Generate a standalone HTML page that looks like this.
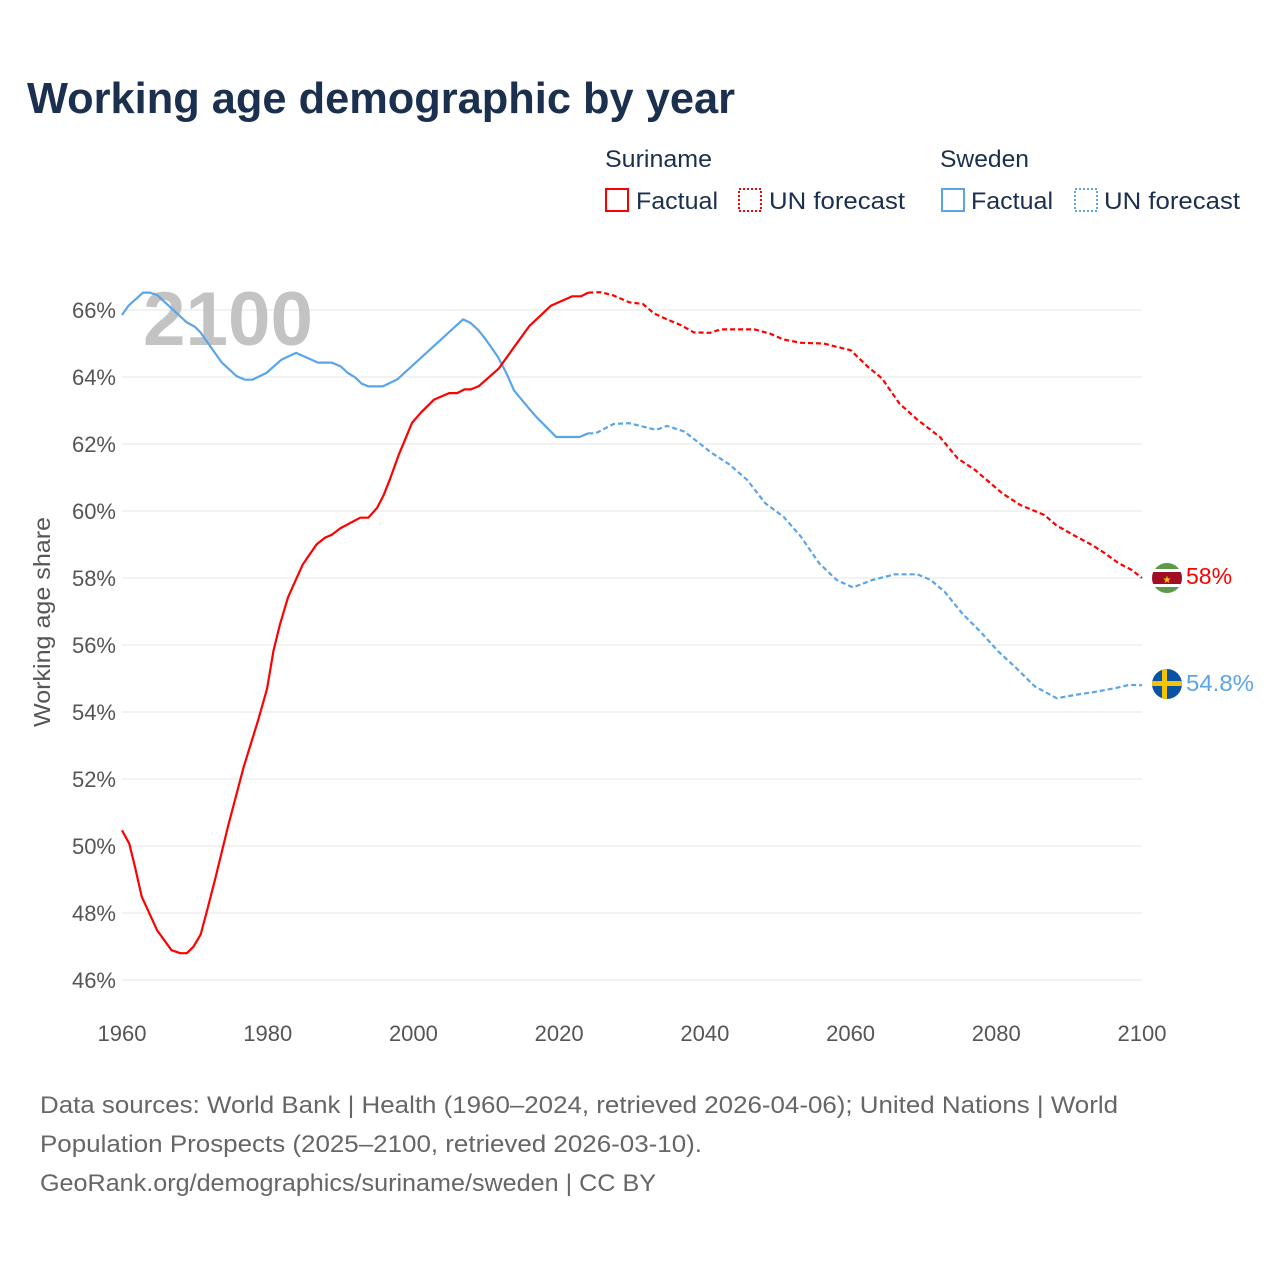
<!DOCTYPE html>
<html><head><meta charset="utf-8">
<style>
html,body{margin:0;padding:0;background:#fff;}
body{width:1280px;height:1280px;overflow:hidden;font-family:"Liberation Sans",sans-serif;}
svg text{font-family:"Liberation Sans",sans-serif;}
</style></head>
<body>
<svg id="chart" width="1280" height="1280" xmlns="http://www.w3.org/2000/svg">
<text x="27" y="113" font-size="44" font-weight="bold" fill="#1b2f4e" textLength="708" lengthAdjust="spacingAndGlyphs">Working age demographic by year</text>
<g font-size="24" fill="#1b2f4e">
<text x="605" y="167" textLength="107" lengthAdjust="spacingAndGlyphs">Suriname</text>
<text x="940" y="167" textLength="89" lengthAdjust="spacingAndGlyphs">Sweden</text>
<g><rect x="606" y="189" width="22" height="22" fill="none" stroke="#ff0000" stroke-width="2"/><text x="636" y="209" textLength="82" lengthAdjust="spacingAndGlyphs">Factual</text></g>
<g><rect x="739" y="189" width="22" height="22" fill="none" stroke="#ff0000" stroke-width="2" stroke-dasharray="2,2"/><text x="769" y="209" textLength="136" lengthAdjust="spacingAndGlyphs">UN forecast</text></g>
<g><rect x="942" y="189" width="22" height="22" fill="none" stroke="#5aa5ea" stroke-width="2"/><text x="971" y="209" textLength="82" lengthAdjust="spacingAndGlyphs">Factual</text></g>
<g><rect x="1075" y="189" width="22" height="22" fill="none" stroke="#5aa5ea" stroke-width="2" stroke-dasharray="2,2"/><text x="1104" y="209" textLength="136" lengthAdjust="spacingAndGlyphs">UN forecast</text></g>
</g>
<g id="grid"></g>
<g id="yticks" font-size="22" fill="#555" text-anchor="end"></g>
<g id="xticks" font-size="22" fill="#555" text-anchor="middle"></g>
<text x="143" y="345" font-size="76" font-weight="bold" fill="#bdbdbd" opacity="0.9" textLength="170" lengthAdjust="spacingAndGlyphs">2100</text>
<text transform="translate(50,622) rotate(-90)" font-size="23" fill="#555" text-anchor="middle" textLength="210" lengthAdjust="spacingAndGlyphs">Working age share</text>
<g id="series"></g>
<g>
<clipPath id="cs"><circle cx="1167" cy="578" r="15"/></clipPath>
<g clip-path="url(#cs)"><rect x="1150" y="560" width="34" height="36" fill="#5b9a46"/><rect x="1150" y="569" width="34" height="18" fill="#fff"/><rect x="1150" y="572" width="34" height="12" fill="#a10d25"/><text x="1167" y="583" font-size="10" fill="#f5d000" text-anchor="middle">★</text></g>
</g>
<text x="1186" y="584" font-size="23" fill="#ff0000">58%</text>
<g>
<clipPath id="cw"><circle cx="1167" cy="684" r="15"/></clipPath>
<g clip-path="url(#cw)"><rect x="1150" y="667" width="34" height="34" fill="#0a52a6"/><rect x="1150" y="681" width="34" height="5" fill="#f5c400"/><rect x="1162" y="667" width="5" height="34" fill="#f5c400"/></g>
</g>
<text x="1186" y="691" font-size="23" fill="#5aa5ea" textLength="68" lengthAdjust="spacingAndGlyphs">54.8%</text>
<g font-size="24" fill="#666">
<text x="40" y="1113" textLength="1078" lengthAdjust="spacingAndGlyphs">Data sources: World Bank | Health (1960–2024, retrieved 2026-04-06); United Nations | World</text>
<text x="40" y="1152" textLength="662" lengthAdjust="spacingAndGlyphs">Population Prospects (2025–2100, retrieved 2026-03-10).</text>
<text x="40" y="1191" textLength="616" lengthAdjust="spacingAndGlyphs">GeoRank.org/demographics/suriname/sweden | CC BY</text>
</g>
</svg>
<script>
const yTicks=[46,48,50,52,54,56,58,60,62,64,66];
const xTicks=[1960,1980,2000,2020,2040,2060,2080,2100];
const surYears=[1960,1961,1961.8,1962.7,1964.8,1966.8,1968,1968.9,1969.8,1970.8,1971.7,1972.8,1974.6,1976.7,1978.7,1979.9,1980.8,1981.7,1982.8,1984.8,1986.7,1987.9,1988.8,1990,1992.7,1993.8,1995,1995.9,1996.8,1998,1999.8,2001,2002.8,2004.9,2006,2007,2007.9,2009,2011.7,2013.8,2015.9,2018.9,2021.8,2023,2024];
const surVals=[50.47,50.07,49.36,48.49,47.49,46.89,46.8,46.8,46.99,47.36,48.09,49.03,50.63,52.36,53.76,54.69,55.83,56.63,57.43,58.4,59.0,59.21,59.29,59.49,59.8,59.8,60.09,60.47,60.96,61.69,62.63,62.93,63.32,63.52,63.52,63.63,63.63,63.73,64.25,64.89,65.52,66.13,66.41,66.41,66.52];
const surFcYears=[2024,2025.7,2027.5,2029.6,2031.5,2033,2034.8,2036.7,2038.5,2040.7,2042.2,2046.8,2048.9,2050.8,2053.2,2056.3,2058.1,2060,2062.4,2064.3,2066.7,2069.2,2072.2,2074.7,2077.1,2080.8,2083.3,2086.6,2088.2,2090.6,2093.1,2094.9,2096.8,2098.6,2100];
const surFcVals=[66.52,66.53,66.43,66.23,66.18,65.9,65.72,65.55,65.33,65.32,65.42,65.42,65.3,65.12,65.02,65.0,64.9,64.8,64.3,63.96,63.21,62.72,62.22,61.57,61.22,60.53,60.18,59.88,59.58,59.28,58.99,58.74,58.44,58.24,58.0];
const sweYears=[1960,1960.9,1962.9,1963.8,1964.8,1968.9,1970,1970.7,1973.7,1975.7,1976.9,1977.9,1979.8,1981.9,1983.9,1986.9,1988.8,1990,1991,1992,1992.9,1993.8,1995.8,1997.8,2006.8,2007.8,2008.9,2010,2011.6,2012.8,2013.8,2015.7,2016.9,2019.6,2022.8,2024];
const sweVals=[65.85,66.13,66.52,66.52,66.45,65.63,65.5,65.35,64.43,64.03,63.92,63.92,64.12,64.52,64.72,64.43,64.43,64.32,64.12,63.99,63.8,63.72,63.72,63.93,65.72,65.62,65.4,65.1,64.6,64.1,63.6,63.1,62.8,62.21,62.21,62.32];
const sweFcYears=[2024,2025,2027.5,2029.6,2031.5,2033.3,2034.8,2037.2,2040.9,2043.3,2045.8,2048.3,2050.8,2053.2,2055.7,2058.1,2060.3,2063,2066.1,2069.2,2071,2072.9,2075.3,2077.8,2080.3,2082.8,2085.3,2088.3,2090.8,2093.3,2096.3,2098.2,2100];
const sweFcVals=[62.32,62.32,62.6,62.62,62.52,62.42,62.54,62.37,61.74,61.4,60.93,60.23,59.83,59.23,58.44,57.94,57.72,57.94,58.11,58.11,57.94,57.59,56.95,56.4,55.8,55.3,54.76,54.41,54.51,54.59,54.71,54.81,54.8];

const NS='http://www.w3.org/2000/svg';
function xs(yr){return 122+(yr-1960)*(1142-122)/140;}
function ys(v){return 310+(66-v)*33.5;}
const grid=document.getElementById('grid'),yt=document.getElementById('yticks'),xt=document.getElementById('xticks'),ser=document.getElementById('series');
yTicks.forEach(v=>{
  const l=document.createElementNS(NS,'line');
  
  
  l.setAttribute('x1',122);l.setAttribute('x2',1142);l.setAttribute('y1',ys(v));l.setAttribute('y2',ys(v));
  l.setAttribute('stroke','#e6e6e6');l.setAttribute('stroke-width','1');
  grid.appendChild(l);
  const t=document.createElementNS(NS,'text');
  
  
  t.setAttribute('x',116);t.setAttribute('y',ys(v)+8);t.textContent=v+'%';
  yt.appendChild(t);
});
xTicks.forEach(v=>{
  const t=document.createElementNS(NS,'text');
  
  
  t.setAttribute('x',xs(v));t.setAttribute('y',1041);t.textContent=v;
  xt.appendChild(t);
});
function line(yrs,vals,color,dash,name){
  const p=document.createElementNS(NS,'path');
  
  
  p.setAttribute('d',yrs.map((y,i)=>(i?'L':'M')+xs(y).toFixed(1)+','+ys(vals[i]).toFixed(1)).join(''));
  p.setAttribute('fill','none');p.setAttribute('stroke',color);p.setAttribute('stroke-width','2.2');
  p.setAttribute('stroke-linejoin','round');
  if(dash)p.setAttribute('stroke-dasharray','5,3');
  ser.appendChild(p);
}
line(sweYears,sweVals,'#5aa5ea',false,'sweden-factual-line');
line(sweFcYears,sweFcVals,'#5aa5ea',true,'sweden-forecast-line');
line(surYears,surVals,'#ff0000',false,'suriname-factual-line');
line(surFcYears,surFcVals,'#ff0000',true,'suriname-forecast-line');
</script>
</body></html>
